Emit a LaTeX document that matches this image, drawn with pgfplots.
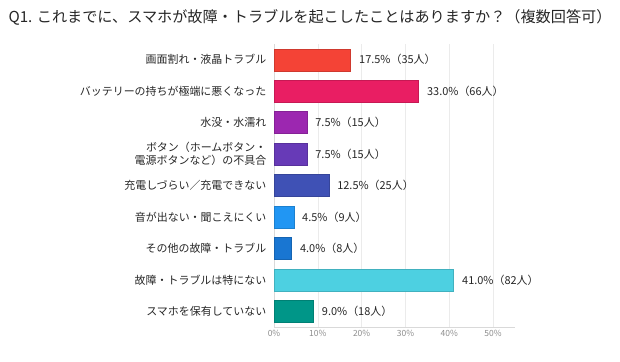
\documentclass[border=0pt]{standalone}
\usepackage{fontspec}
\setmainfont{Noto Sans CJK JP}
\usepackage{pgfplots}
\pgfplotsset{compat=1.18}
\definecolor{c1}{HTML}{F44336}
\definecolor{c2}{HTML}{E91E63}
\definecolor{c3}{HTML}{9C27B0}
\definecolor{c4}{HTML}{673AB7}
\definecolor{c5}{HTML}{3F51B5}
\definecolor{c6}{HTML}{2196F3}
\definecolor{c7}{HTML}{1976D2}
\definecolor{c8}{HTML}{4DD0E1}
\definecolor{c9}{HTML}{009688}
\begin{document}
\begin{tikzpicture}
\path[use as bounding box] (0,0) rectangle (620bp,362bp);
\node[font=\fontsize{15.2}{17}\selectfont, text=black!85] at (310bp,345bp) {Q1. これまでに、スマホが故障・トラブルを起こしたことはありますか？（複数回答可）};
\begin{axis}[
  at={(274bp,35bp)}, anchor=south west,
  scale only axis, width=241bp, height=283bp,
  xmin=0, xmax=55, ymin=0.5, ymax=9.5, y dir=reverse,
  xbar, bar width=22bp, bar shift=0pt,
  xtick={0,10,20,30,40,50},
  xticklabel={\pgfmathprintnumber{\tick}\%},
  /pgf/number format/assume math mode=true,
  xmajorgrids, grid style={black!8},
  axis x line*=bottom, axis y line*=left,
  axis line style={black!15},
  tick style={draw=none},
  ytick={1,...,9},
  yticklabels={{画面割れ・液晶トラブル},{バッテリーの持ちが極端に悪くなった},{水没・水濡れ},{ボタン（ホームボタン・\\電源ボタンなど）の不具合},{充電しづらい／充電できない},{音が出ない・聞こえにくい},{その他の故障・トラブル},{故障・トラブルは特にない},{スマホを保有していない}},
  yticklabel style={font=\fontsize{11}{13}\selectfont, align=right, text=black!85},
  xticklabel style={font=\fontsize{8.5}{9}\selectfont, text=black!45},
  nodes near coords, point meta=explicit symbolic,
  nodes near coords style={font=\fontsize{11}{13}\selectfont, anchor=west, xshift=5bp, text=black!85},
]
\addplot[fill=c1, draw=c1!85!black] coordinates {(17.5,1) [17.5\%（35人）]};
\addplot[fill=c2, draw=c2!85!black] coordinates {(33.0,2) [33.0\%（66人）]};
\addplot[fill=c3, draw=c3!85!black] coordinates {(7.5,3) [7.5\%（15人）]};
\addplot[fill=c4, draw=c4!85!black] coordinates {(7.5,4) [7.5\%（15人）]};
\addplot[fill=c5, draw=c5!85!black] coordinates {(12.5,5) [12.5\%（25人）]};
\addplot[fill=c6, draw=c6!85!black] coordinates {(4.5,6) [4.5\%（9人）]};
\addplot[fill=c7, draw=c7!85!black] coordinates {(4.0,7) [4.0\%（8人）]};
\addplot[fill=c8, draw=c8!85!black] coordinates {(41.0,8) [41.0\%（82人）]};
\addplot[fill=c9, draw=c9!85!black] coordinates {(9.0,9) [9.0\%（18人）]};
\end{axis}
\end{tikzpicture}
\end{document}
